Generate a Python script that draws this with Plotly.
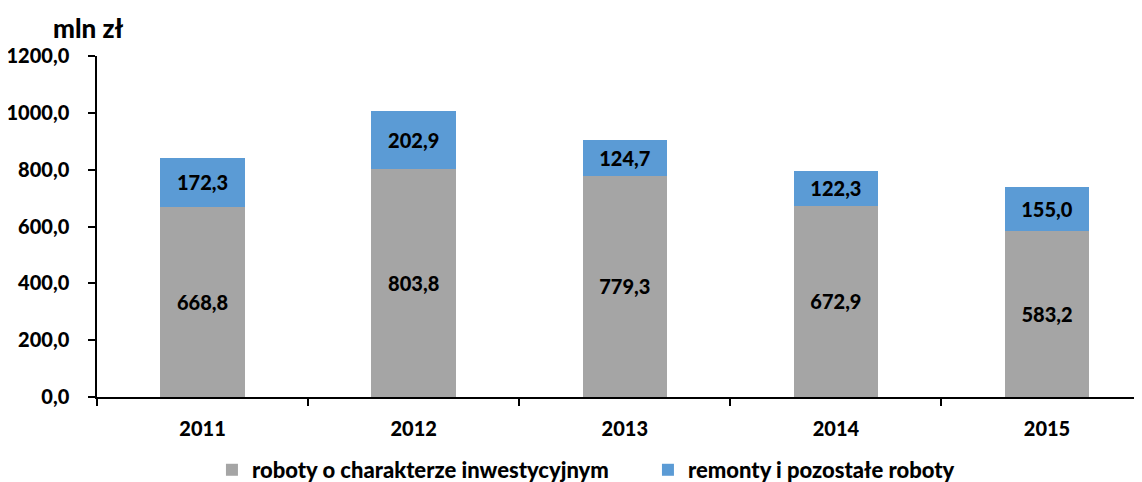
import plotly.graph_objects as go

lata = ["2011", "2012", "2013", "2014", "2015"]
inwestycyjne = [668.8, 803.8, 779.3, 672.9, 583.2]
remonty = [172.3, 202.9, 124.7, 122.3, 155.0]

font = "Lato"
bold = 900

fig = go.Figure()
fig.add_trace(go.Bar(
    x=lata, y=inwestycyjne, name="roboty o charakterze inwestycyjnym",
    marker=dict(color="#A5A5A5", line=dict(width=0)),
    texttemplate="%{y:.1f}", textposition="inside", insidetextanchor="middle",
    textfont=dict(family=font, size=20, color="black", weight=bold),
))
fig.add_trace(go.Bar(
    x=lata, y=remonty, name="remonty i pozostałe roboty",
    marker=dict(color="#5B9BD5", line=dict(width=0)),
    texttemplate="%{y:.1f}", textposition="inside", insidetextanchor="middle",
    textfont=dict(family=font, size=20, color="black", weight=bold),
))

# strona ma 8px marginesu body, więc wszystko jest przesunięte o 8px
fig.update_layout(
    barmode="stack", bargap=0.6,
    width=1142, height=510,
    margin=dict(l=89, r=8, t=48, b=121),
    plot_bgcolor="white", paper_bgcolor="white",
    separators=", ",
    font=dict(family=font, size=20, color="black", weight=bold),
    xaxis=dict(
        type="category", range=[-0.5, 4.45], tickson="boundaries",
        ticks="outside", ticklen=7, tickcolor="black", tickwidth=1.5,
        showline=True, linecolor="black", linewidth=2,
        ticklabelstandoff=13, automargin=False,
        tickfont=dict(family=font, size=20, weight=bold),
    ),
    yaxis=dict(
        range=[0, 1200], dtick=200, tickformat=".1f",
        ticks="outside", ticklen=7, tickcolor="black", tickwidth=1.5,
        showline=True, linecolor="black", linewidth=1.5,
        showgrid=False, zeroline=False,
        ticklabelstandoff=15, automargin=False,
        tickfont=dict(family=font, size=20, weight=bold),
    ),
    legend=dict(
        orientation="h", traceorder="normal",
        x=0.110, xanchor="left", y=-0.214, yanchor="middle",
        entrywidth=391, entrywidthmode="pixels",
        font=dict(family=font, size=22, weight=bold),
    ),
    uniformtext=dict(minsize=18, mode="show"),
    annotations=[dict(
        text="mln zł", xref="paper", yref="paper", x=0.027, y=1.082,
        xanchor="right", yanchor="middle", showarrow=False,
        font=dict(family=font, size=26, weight=bold),
    )],
)

fig.write_html("out.html")
